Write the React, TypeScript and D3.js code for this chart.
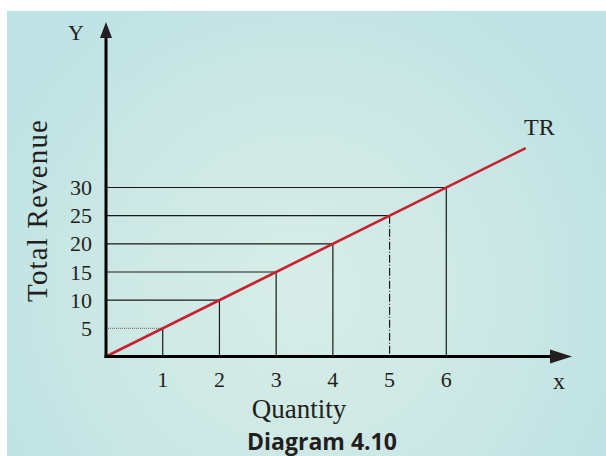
import React, { useRef, useEffect } from "react";
import * as d3 from "d3";

// quantities and total revenue
const quantities = [1, 2, 3, 4, 5, 6];
const revenues = [5, 10, 15, 20, 25, 30];
const yTicks = [5, 10, 15, 20, 25, 30];
const trLineEnd = [0, 7.4];
// line style of each guide pair (level 5 dotted/dash-dot in the original)
const guideStyles = ["dotted", "solid", "solid", "solid", "dashdot", "solid"];

const serif = "'Liberation Serif', 'Times New Roman', serif";

const App = () => {
	const svgRef = useRef<SVGSVGElement | null>(null);

	useEffect(() => {
		if (!svgRef.current) return;
		const width = 606;
		const height = 456;
		const svg = d3.select(svgRef.current);
		svg.selectAll("*").remove();
		svg.attr("width", width).attr("height", height);

		const origin = { x: 106, y: 356.5 };
		const x = d3.scaleLinear().domain([0, 6]).range([origin.x, 446.3]);
		const y = d3.scaleLinear().domain([0, 30]).range([origin.y, 187.5]);

		const defs = svg.append("defs");
		const grad = defs
			.append("radialGradient")
			.attr("id", "bgGrad")
			.attr("gradientUnits", "userSpaceOnUse")
			.attr("cx", 300)
			.attr("cy", 290)
			.attr("r", 330);
		grad.append("stop").attr("offset", "0%").attr("stop-color", "#d8ede7");
		grad.append("stop").attr("offset", "55%").attr("stop-color", "#cde8e5");
		grad.append("stop").attr("offset", "100%").attr("stop-color", "#bfe3e4");

		svg.append("rect")
			.attr("x", 7)
			.attr("y", 11)
			.attr("width", width - 7)
			.attr("height", height - 11)
			.attr("fill", "url(#bgGrad)");

		// guide lines
		const guides = svg.append("g");
		quantities.forEach((q, i) => {
			const style = guideStyles[i];
			const h = guides
				.append("line")
				.attr("x1", origin.x)
				.attr("x2", x(q))
				.attr("y1", y(revenues[i]))
				.attr("y2", y(revenues[i]))
				.attr("stroke", style === "dotted" ? "#777" : "#1a1a1a")
				.attr("stroke-width", 1.2);
			if (style === "dotted") h.attr("stroke-dasharray", "1,1");
			const v = guides
				.append("line")
				.attr("x1", x(q))
				.attr("x2", x(q))
				.attr("y1", y(revenues[i]))
				.attr("y2", origin.y)
				.attr("stroke", "#1a1a1a")
				.attr("stroke-width", 1.2);
			if (style === "dashdot") v.attr("stroke-dasharray", "8,2,1,2");
		});

		// TR line
		svg.append("line")
			.attr("x1", x(trLineEnd[0]))
			.attr("y1", y(trLineEnd[0] * 5))
			.attr("x2", x(trLineEnd[1]))
			.attr("y2", y(trLineEnd[1] * 5))
			.attr("stroke", "#c8202f")
			.attr("stroke-width", 2.6);

		// axes
		svg.append("line")
			.attr("x1", origin.x)
			.attr("y1", origin.y + 1.5)
			.attr("x2", origin.x)
			.attr("y2", 36)
			.attr("stroke", "#000")
			.attr("stroke-width", 3);
		svg.append("path")
			.attr("d", `M${origin.x},22 L${origin.x - 6},38 L${origin.x + 6},38 Z`)
			.attr("fill", "#231f20");
		svg.append("line")
			.attr("x1", origin.x - 1.5)
			.attr("y1", origin.y)
			.attr("x2", 552)
			.attr("y2", origin.y)
			.attr("stroke", "#000")
			.attr("stroke-width", 3);
		svg.append("path")
			.attr("d", `M572,${origin.y} L550,${origin.y - 7} L550,${origin.y + 7} Z`)
			.attr("fill", "#231f20");

		// tick labels
		svg.append("g")
			.selectAll("text")
			.data(yTicks)
			.join("text")
			.attr("x", 92)
			.attr("y", (d) => y(d) + 7.5)
			.attr("text-anchor", "end")
			.style("font-family", serif)
			.style("font-size", "22px")
			.attr("fill", "#231f20")
			.text((d) => d);
		svg.append("g")
			.selectAll("text")
			.data(quantities)
			.join("text")
			.attr("x", (d) => x(d))
			.attr("y", 387)
			.attr("text-anchor", "middle")
			.style("font-family", serif)
			.style("font-size", "22px")
			.attr("fill", "#231f20")
			.text((d) => d);

		const label = (tx: number, ty: number, t: string, size: number, anchor = "start") =>
			svg.append("text")
				.attr("x", tx)
				.attr("y", ty)
				.attr("text-anchor", anchor)
				.style("font-family", serif)
				.style("font-size", `${size}px`)
				.attr("fill", "#231f20")
				.text(t);

		label(68, 40, "Y", 22);
		label(553, 389, "x", 24);
		label(524, 135, "TR", 24);
		label(299, 418, "Quantity", 27, "middle");
		label(0, 0, "Total Revenue", 29, "middle")
			.attr("transform", `translate(47,211) rotate(-90)`)
			.attr("textLength", 182);

		svg.append("text")
			.attr("x", 322)
			.attr("y", 450)
			.attr("text-anchor", "middle")
			.style("font-family", "'Open Sans', 'DejaVu Sans', sans-serif")
			.style("font-weight", "bold")
			.style("font-size", "23px")
			.attr("fill", "#231f20")
			.text("Diagram 4.10");
	}, []);

	return (
		<div style={{ position: "absolute", left: 0, top: 0 }}>
			<svg ref={svgRef} style={{ display: "block" }}></svg>
		</div>
	);
};

export default App;
